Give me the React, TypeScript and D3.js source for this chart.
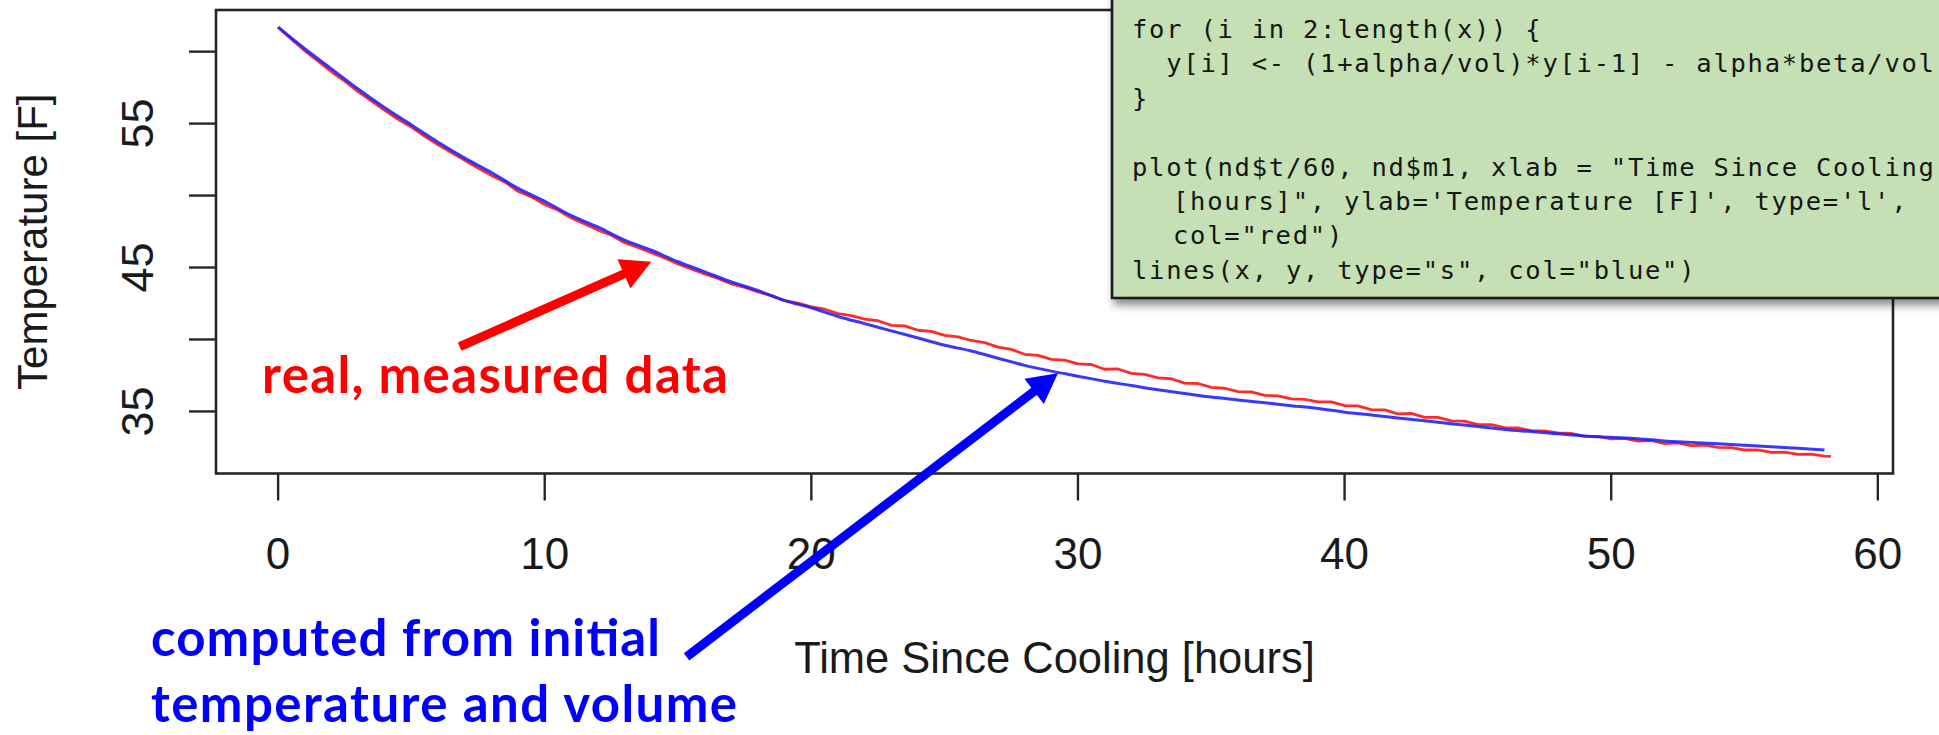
import * as d3 from 'd3';

// axis ticks
const xTicks = [0, 10, 20, 30, 40, 50, 60];
const yTicks = [35, 40, 45, 50, 55, 60];
const yTickLabels = [35, 45, 55]; // R drops the labels that would overlap

// computed model (blue), one reading per hour
const blueHours = d3.range(0, 59);
const blueTemp = [
  61.7, 60.2, 58.8, 57.4, 56.1, 54.9, 53.7, 52.6, 51.6, 50.5,
  49.6, 48.6, 47.8, 46.9, 46.2, 45.4, 44.7, 44.0, 43.4, 42.7,
  42.2, 41.6, 41.1, 40.6, 40.1, 39.6, 39.2, 38.7, 38.2, 37.8,
  37.45, 37.1, 36.8, 36.5, 36.25, 36.0, 35.8, 35.6, 35.4, 35.2,
  34.95, 34.75, 34.55, 34.35, 34.15, 33.95, 33.75, 33.6, 33.45, 33.3,
  33.2, 33.1, 32.95, 32.85, 32.75, 32.65, 32.55, 32.45, 32.32,
];

// measured data (red), every half hour
const redHours = [...d3.range(0, 58.01, 0.5), 58.24];
const redTemp = [
  61.7, 60.86, 60.06, 59.36, 58.6, 57.95, 57.22, 56.58, 55.92, 55.3,
  54.76, 54.12, 53.52, 52.99, 52.45, 51.92, 51.4, 50.95, 50.3, 49.91,
  49.38, 48.98, 48.44, 48.03, 47.6, 47.24, 46.72, 46.39, 46.03, 45.66,
  45.25, 44.9, 44.55, 44.24, 43.86, 43.62, 43.3, 43.05, 42.7, 42.53,
  42.27, 42.1, 41.8, 41.66, 41.42, 41.3, 40.98, 40.94, 40.64, 40.56,
  40.28, 40.18, 39.93, 39.78, 39.47, 39.31, 38.97, 38.9, 38.62, 38.57,
  38.3, 38.26, 37.93, 37.95, 37.64, 37.58, 37.33, 37.27, 36.97, 36.94,
  36.67, 36.61, 36.37, 36.36, 36.12, 36.08, 35.87, 35.84, 35.67, 35.66,
  35.4, 35.39, 35.13, 35.11, 34.83, 34.86, 34.59, 34.58, 34.35, 34.33,
  34.09, 34.08, 33.87, 33.86, 33.66, 33.65, 33.51, 33.47, 33.26, 33.27,
  33.09, 33.13, 32.93, 32.98, 32.77, 32.82, 32.63, 32.66, 32.5, 32.49,
  32.32, 32.33, 32.15, 32.17, 32.01, 32.03, 31.9, 31.88,
];

const codeLines = [
  'for (i in 2:length(x)) {',
  'y[i] <- (1+alpha/vol)*y[i-1] - alpha*beta/vol',
  '}',
  '',
  'plot(nd$t/60, nd$m1, xlab = "Time Since Cooling',
  '[hours]", ylab=\'Temperature [F]\', type=\'l\',',
  'col="red")',
  'lines(x, y, type="s", col="blue")',
];
const codeIndent = [0, 2, 0, 0, 0, 2.4, 2.4, 0];

const W = 1939;
const H = 735;
const margin = { top: 10, right: 46, bottom: 261.5, left: 216 };

// R style axis range: data extent padded by 4% each side
function rRange(vals: number[]): [number, number] {
  const [lo, hi] = d3.extent(vals) as [number, number];
  const pad = (hi - lo) * 0.04;
  return [lo - pad, hi + pad];
}

function Arrow({ x1, y1, x2, y2, color }: any) {
  const ang = Math.atan2(y2 - y1, x2 - x1);
  const L = 30;
  const hw = 16;
  const bx = x2 - L * Math.cos(ang);
  const by = y2 - L * Math.sin(ang);
  const px = -Math.sin(ang);
  const py = Math.cos(ang);
  const pts = [
    [x2, y2],
    [bx + hw * px, by + hw * py],
    [bx - hw * px, by - hw * py],
  ];
  return (
    <g>
      <line x1={x1} y1={y1} x2={bx + 2 * Math.cos(ang)} y2={by + 2 * Math.sin(ang)} stroke={color} strokeWidth={9} />
      <polygon points={pts.map((p) => p.join(',')).join(' ')} fill={color} />
    </g>
  );
}

export default function App() {
  const x = d3
    .scaleLinear()
    .domain(rRange([...blueHours, ...redHours]))
    .range([margin.left, W - margin.right]);
  const y = d3
    .scaleLinear()
    .domain(rRange([...blueTemp, ...redTemp]))
    .range([H - margin.bottom, margin.top]);

  const left = margin.left;
  const right = W - margin.right;
  const top = margin.top;
  const bottom = H - margin.bottom;

  const redLine = d3
    .line<number>()
    .x((_, i) => x(redHours[i]))
    .y((d) => y(d));
  const blueLine = d3
    .line<number>()
    .x((_, i) => x(blueHours[i]))
    .y((d) => y(d))
    .curve(d3.curveMonotoneX);

  const rFont = '"Liberation Sans", Arial, Helvetica, sans-serif';
  const noteFont = 'Lato, "Noto Sans", sans-serif';
  const codeFont = '"DejaVu Sans Mono", "Liberation Mono", monospace';
  const charW = 17.1;
  const codeX = 1132;

  // annotation anchors in data units
  const redTip = { t: 14.0, v: 45.4 };
  const redTail = { t: 6.81, v: 39.5 };
  const blueTip = { t: 29.25, v: 37.66 };
  const blueTail = { t: 15.32, v: 17.95 };

  return (
    <svg
      width={W}
      height={H}
      style={{ position: 'absolute', left: 0, top: 0, background: '#fff' }}
    >
      <defs>
        <filter id="shadow" x="-5%" y="-5%" width="115%" height="120%">
          <feDropShadow dx="3" dy="6" stdDeviation="4" floodColor="#000" floodOpacity="0.45" />
        </filter>
      </defs>
      <rect x={0} y={0} width={W} height={H} fill="#fff" />

      {/* series */}
      <path d={redLine(redTemp) || ''} fill="none" stroke="#ff2a2a" strokeWidth={2.8} strokeLinejoin="round" />
      <path d={blueLine(blueTemp) || ''} fill="none" stroke="#2222ff" strokeWidth={3} opacity={0.9} />

      {/* box */}
      <rect x={left} y={top} width={right - left} height={bottom - top} fill="none" stroke="#262626" strokeWidth={2.6} />

      {/* x axis */}
      {xTicks.map((t) => (
        <g key={'x' + t}>
          <line x1={x(t)} x2={x(t)} y1={bottom} y2={bottom + 27} stroke="#262626" strokeWidth={2.4} />
          <text x={x(t)} y={569} textAnchor="middle" fontFamily={rFont} fontSize={44} fill="#1a1a1a">
            {t}
          </text>
        </g>
      ))}
      <text x={(left + right) / 2} y={673} textAnchor="middle" fontFamily={rFont} fontSize={43.5} fill="#1a1a1a">
        Time Since Cooling [hours]
      </text>

      {/* y axis */}
      {yTicks.map((t) => (
        <line key={'y' + t} x1={left} x2={left - 27} y1={y(t)} y2={y(t)} stroke="#262626" strokeWidth={2.4} />
      ))}
      {yTickLabels.map((t) => (
        <text
          key={'yl' + t}
          transform={`translate(153,${y(t)}) rotate(-90)`}
          textAnchor="middle"
          fontFamily={rFont}
          fontSize={45}
          fill="#1a1a1a"
        >
          {t}
        </text>
      ))}
      <text
        transform={`translate(47,${(top + bottom) / 2}) rotate(-90)`}
        textAnchor="middle"
        fontFamily={rFont}
        fontSize={42}
        fill="#1a1a1a"
      >
        Temperature [F]
      </text>

      {/* code box */}
      <rect x={1112} y={-20} width={900} height={318} fill="#c5e0b4" stroke="#1b1b1b" strokeWidth={2.6} filter="url(#shadow)" />
      {codeLines.map((ln, i) =>
        ln ? (
          <text
            key={'c' + i}
            x={ln
              .split('')
              .map((_, k) => (codeX + (codeIndent[i] + k) * charW).toFixed(1))
              .join(' ')}
            y={38 + i * 34.4}
            fontFamily={codeFont}
            fontSize={25.5}
            fill="#161616"
            style={{ whiteSpace: 'pre' }}
          >
            {ln}
          </text>
        ) : null
      )}

      {/* annotations */}
      <Arrow x1={x(redTail.t)} y1={y(redTail.v)} x2={x(redTip.t)} y2={y(redTip.v)} color="#ff0000" />
      <text x={262} y={393} fontFamily={noteFont} fontWeight={700} fontSize={51} fill="#ff0000" textLength={466}>
        real, measured data
      </text>
      <Arrow x1={x(blueTail.t)} y1={y(blueTail.v)} x2={x(blueTip.t)} y2={y(blueTip.v)} color="#0000ff" />
      <text x={151} y={656} fontFamily={noteFont} fontWeight={700} fontSize={51} fill="#0000ff" textLength={509}>
        computed from initial
      </text>
      <text x={151} y={722} fontFamily={noteFont} fontWeight={700} fontSize={51} fill="#0000ff" textLength={586}>
        temperature and volume
      </text>
    </svg>
  );
}
